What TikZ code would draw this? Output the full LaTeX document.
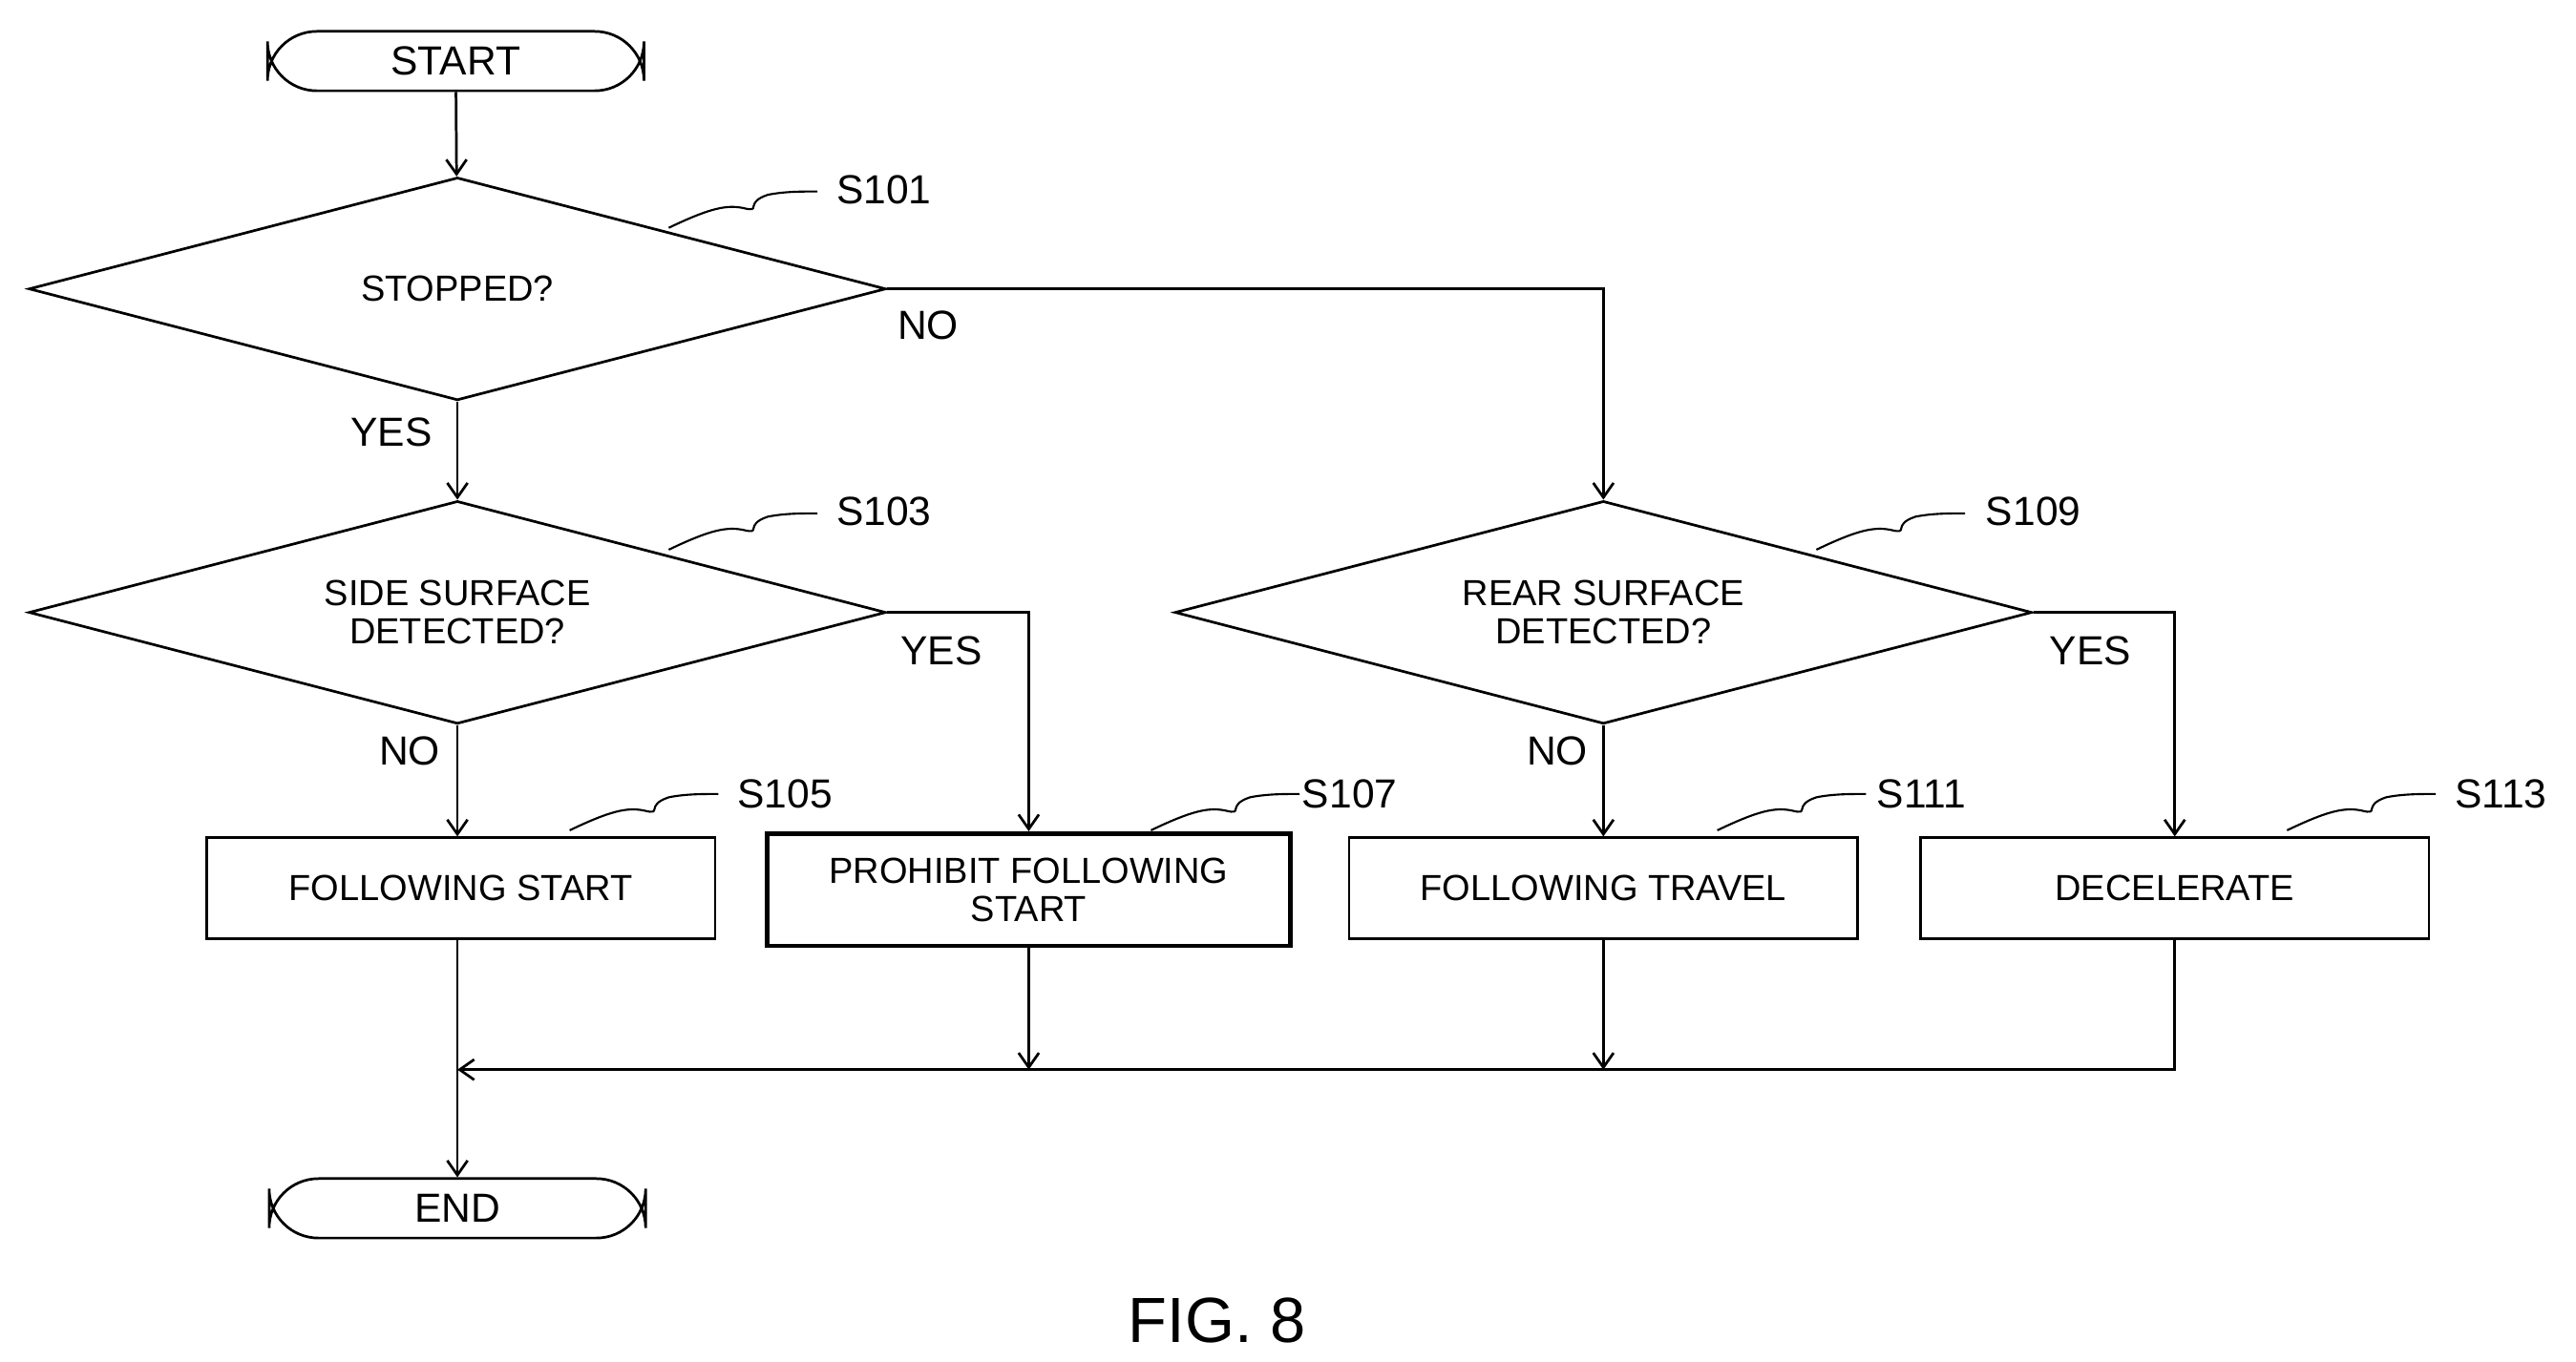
\documentclass[tikz,border=0pt]{standalone}
\usepackage{fontspec}
\setmainfont{Liberation Sans}
\usetikzlibrary{shapes.geometric,arrows.meta}
\begin{document}
\begin{tikzpicture}[x=0.2mm,y=-0.2mm,
  line width=0.9pt,
  arr/.style={-{Straight Barb[length=5pt,width=7pt]}},
  term/.style={draw,rounded corners=17pt,minimum width=45.6mm,minimum height=7.2mm,font=\fontsize{14}{16}\selectfont,inner sep=0pt},
  box/.style={draw,minimum width=61.6mm,minimum height=12.2mm,font=\fontsize{12.5}{13}\selectfont,align=center,inner sep=0pt},
  dia/.style={draw,diamond,aspect=3.85,minimum width=103.8mm,minimum height=27mm,inner sep=0pt,font=\fontsize{12.5}{13}\selectfont,align=center},
  lab/.style={font=\fontsize{14}{16}\selectfont},
  sq/.style={line width=0.7pt}]
\useasboundingbox (0,0) rectangle (1560,825);
\node[term] (start) at (276,37) {START};
\node[dia] (d1) at (277,175) {STOPPED?};
\node[dia] (d2) at (277,371) {SIDE SURFACE\\DETECTED?};
\node[dia] (d3) at (971,371) {REAR SURFACE\\DETECTED?};
\node[box] (b5) at (279,538) {FOLLOWING START};
\node[box,line width=1.6pt,minimum width=63.4mm,minimum height=13.6mm] (b7) at (623,539) {PROHIBIT FOLLOWING\\START};
\node[box] (b11) at (971,538) {FOLLOWING TRAVEL};
\node[box] (b13) at (1317,538) {DECELERATE};
\node[term] (end) at (277,732) {END};
\node[font=\fontsize{22}{24}\selectfont] (fig) at (737,800) {FIG. 8};
% step labels
\node[lab,anchor=west] (l1) at (500,115) {S101};
\node[lab,anchor=west] (l3) at (500,310) {S103};
\node[lab,anchor=west] (l5) at (440,481) {S105};
\node[lab,anchor=west] (l7) at (782,481) {S107};
\node[lab,anchor=west] (l9) at (1196,310) {S109};
\node[lab,anchor=west] (l11) at (1130,481) {S111};
\node[lab,anchor=west] (l13) at (1480,481) {S113};
\foreach \a/\b in {l1/{(405,138)},l3/{(405,333)},l5/{(345,503)},l7/{(697,503)},l9/{(1100,333)},l11/{(1040,503)},l13/{(1385,503)}}{
  \draw[sq] \b .. controls +(25,-12) and +(-10,-2) .. +(45,-12) .. controls +(12,3) and +(-15,5) .. +(60,-20)
    .. controls +(10,-2) and +(-10,0) .. +(90,-22);
}
% yes/no labels
\node[lab] (n1) at (562,197) {NO};
\node[lab] (y1) at (237,262) {YES};
\node[lab] (y2) at (570,394) {YES};
\node[lab] (n2) at (248,455) {NO};
\node[lab] (y3) at (1266,394) {YES};
\node[lab] (n3) at (943,455) {NO};
% connectors
\coordinate (m) at (277,648);
\draw[arr] (start) -- (d1);
\draw[arr] (d1) -- (d2);
\draw[arr] (d1.east) -| (d3.north);
\draw[arr] (d2) -- (d2|-b5.north);
\draw[arr] (d2.east) -| (b7.north);
\draw[arr] (d3) -- (b11);
\draw[arr] (d3.east) -| (b13.north);
\draw[arr] (b5.south-|m) -- (end);
\draw[arr] (b13.south) |- (m);
\draw[arr] (b7) -- (b7|-m);
\draw[arr] (b11) -- (b11|-m);
\end{tikzpicture}
\end{document}
